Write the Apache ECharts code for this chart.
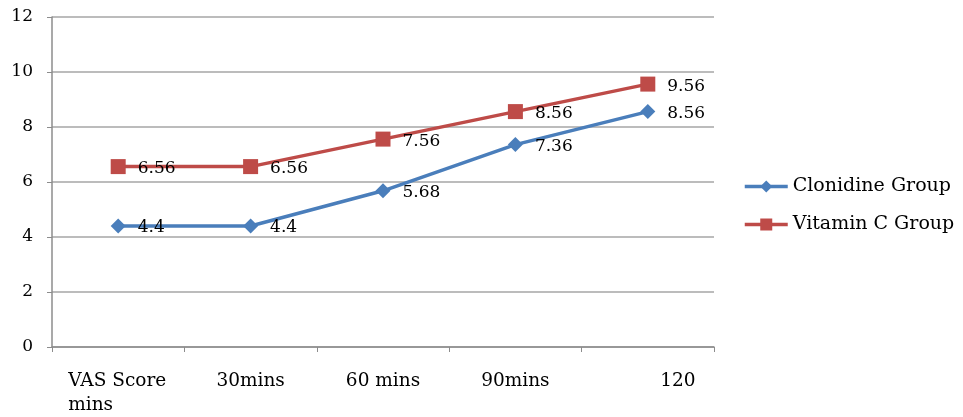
<!DOCTYPE html>
<html><head><meta charset="utf-8">
<script src="https://cdn.jsdelivr.net/npm/echarts@6/dist/echarts.min.js"></script>
<style>html,body{margin:0;padding:0;background:#fff}#c{width:963px;height:417px}</style>
</head><body><div id="c"></div>
<script>
const categories = ['VAS Score mins', '30mins', '60 mins', '90mins', '120'];
const clonidine = [4.4, 4.4, 5.68, 7.36, 8.56];
const vitaminC = [6.56, 6.56, 7.56, 8.56, 9.56];
const yTicks = [0, 2, 4, 6, 8, 10, 12];

const FONT = '"DejaVu Serif", "Liberation Serif", serif';
const FS = 17;
const FX = 18.5;
const chart = echarts.init(document.getElementById('c'));
chart.setOption({
  animation: false,
  textStyle: { fontFamily: FONT },
  grid: { left: 52, right: 249, top: 17, bottom: 67 },
  legend: {
    orient: 'vertical', left: 743, top: 177, itemGap: 19, padding: 0,
    itemWidth: 43, itemHeight: 15,
    lineStyle: { width: 3.5 },
    textStyle: { fontFamily: FONT, fontSize: 19, color: '#000' },
    data: ['Clonidine Group', 'Vitamin C Group']
  },
  xAxis: {
    type: 'category', data: categories, boundaryGap: true,
    axisLine: { lineStyle: { color: '#8c8c8c', width: 1.5 } },
    axisTick: { show: true, length: 5, lineStyle: { color: '#8c8c8c' } },
    axisLabel: {
      margin: 22, color: '#000', fontFamily: FONT, fontSize: FX, lineHeight: 24,
      interval: 0,
      formatter: function (v, i) {
        if (i === 0) return '{l|VAS Score}\n{l|mins}';
        if (i === 4) return '{r|' + v + '}';
        return v;
      },
      rich: {
        l: { width: 100, align: 'left', fontFamily: FONT, fontSize: FX, lineHeight: 24, color: '#000' },
        r: { padding: [0, 0, 0, 60], fontFamily: FONT, fontSize: FX, color: '#000' }
      }
    }
  },
  yAxis: {
    type: 'value', min: yTicks[0], max: yTicks[yTicks.length - 1], interval: 2,
    axisLine: { show: true, lineStyle: { color: '#8c8c8c', width: 1.5 } },
    axisTick: { show: true, length: 5, lineStyle: { color: '#8c8c8c' } },
    splitLine: { lineStyle: { color: '#a6a6a6', width: 1.5 } },
    axisLabel: { margin: 19, color: '#000', fontFamily: FONT, fontSize: FS }
  },
  series: [
    {
      name: 'Clonidine Group', type: 'line', data: clonidine,
      symbol: 'diamond', symbolSize: 15,
      lineStyle: { color: '#4a7ebb', width: 3.5 },
      itemStyle: { color: '#4a7ebb' },
      label: { show: true, position: 'right', distance: 12, offset: [0, 2], color: '#000', fontFamily: FONT, fontSize: FS }
    },
    {
      name: 'Vitamin C Group', type: 'line', data: vitaminC,
      symbol: 'rect', symbolSize: 15,
      lineStyle: { color: '#be4b48', width: 3.5 },
      itemStyle: { color: '#be4b48' },
      label: { show: true, position: 'right', distance: 12, offset: [0, 2], color: '#000', fontFamily: FONT, fontSize: FS }
    }
  ]
});
</script></body></html>
